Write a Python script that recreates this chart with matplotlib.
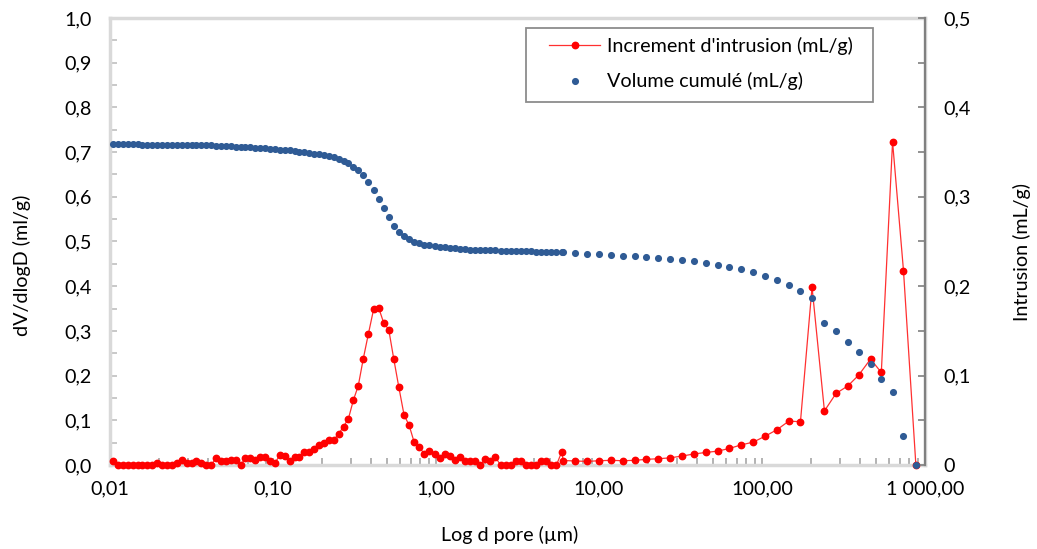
import numpy as np
import matplotlib.pyplot as plt
from matplotlib.ticker import LogLocator, NullFormatter, FixedLocator, MultipleLocator, FuncFormatter
from matplotlib.patches import Rectangle
from matplotlib.lines import Line2D

# log10 of the pore diameter (um) for each measured point
log_d = [
    -1.982, -1.952, -1.921, -1.891, -1.861, -1.831, -1.801, -1.771, -1.741, -1.711,
    -1.681, -1.651, -1.620, -1.590, -1.560, -1.530, -1.500, -1.470, -1.440, -1.410,
    -1.380, -1.350, -1.320, -1.290, -1.259, -1.229, -1.199, -1.169, -1.139, -1.109,
    -1.079, -1.049, -1.019, -0.989, -0.958, -0.928, -0.898, -0.868, -0.838, -0.808,
    -0.778, -0.748, -0.718, -0.688, -0.658, -0.627, -0.597, -0.567, -0.537, -0.507,
    -0.477, -0.446, -0.415, -0.383, -0.352, -0.321, -0.290, -0.259, -0.228, -0.196,
    -0.165, -0.134, -0.103, -0.072, -0.041, -0.009, 0.022, 0.053, 0.084, 0.115,
    0.146, 0.178, 0.209, 0.240, 0.271, 0.302, 0.333, 0.365, 0.396, 0.427,
    0.458, 0.489, 0.520, 0.552, 0.583, 0.614, 0.645, 0.676, 0.707, 0.739,
    0.770,
    # low pressure part, wider steps
    0.782, 0.855, 0.928, 1.001, 1.073, 1.146, 1.219, 1.291, 1.364, 1.436,
    1.509, 1.581, 1.654, 1.727, 1.800, 1.872, 1.945, 2.017, 2.092, 2.164,
    2.236, 2.307, 2.383, 2.454, 2.527, 2.593, 2.666, 2.732, 2.801, 2.868,
    2.944,
]

# dV/dlogD (ml/g) - left axis
increment = [
    0.009, 0, 0, 0, 0, 0, 0, 0, 0, 0.004,
    0, 0, 0, 0.004, 0.012, 0.004, 0.004, 0.008, 0.004, 0,
    0, 0.015, 0.008, 0.008, 0.011, 0.011, 0, 0.015, 0.015, 0.011,
    0.018, 0.018, 0.009, 0.004, 0.022, 0.021, 0.008, 0.018, 0.018, 0.030,
    0.029, 0.036, 0.045, 0.049, 0.056, 0.056, 0.070, 0.086, 0.104, 0.145,
    0.177, 0.238, 0.293, 0.348, 0.352, 0.318, 0.303, 0.237, 0.174, 0.112,
    0.089, 0.051, 0.040, 0.025, 0.032, 0.024, 0.016, 0.024, 0.021, 0.011,
    0.019, 0.010, 0.010, 0.010, 0, 0.013, 0.010, 0.017, 0, 0,
    0, 0.010, 0.008, 0, 0, 0, 0.009, 0.010, 0, 0,
    0.028,
    0.010, 0.009, 0.008, 0.0096, 0.0104, 0.0096, 0.0104, 0.0127, 0.014, 0.016,
    0.020, 0.0246, 0.028, 0.031, 0.037, 0.045, 0.051, 0.064, 0.079, 0.098,
    0.097, 0.398, 0.121, 0.160, 0.177, 0.201, 0.237, 0.207, 0.723, 0.435,
    0.0,
]

# cumulative intrusion (mL/g) - right axis
cumul = [
    0.3587, 0.3587, 0.3587, 0.3586, 0.3586, 0.3586, 0.3585, 0.3585, 0.3585, 0.3584,
    0.3584, 0.3583, 0.3583, 0.3582, 0.3581, 0.3580, 0.3579, 0.3578, 0.3577, 0.3575,
    0.3574, 0.3572, 0.3570, 0.3568, 0.3565, 0.3562, 0.3559, 0.3556, 0.3553, 0.3549,
    0.3545, 0.3541, 0.3537, 0.3533, 0.3528, 0.3523, 0.3518, 0.3512, 0.3506, 0.3499,
    0.3492, 0.3484, 0.3476, 0.3466, 0.3455, 0.3441, 0.3423, 0.3404, 0.3374, 0.3337,
    0.3300, 0.3244, 0.3162, 0.3076, 0.2975, 0.2871, 0.2774, 0.2677, 0.2610, 0.2556,
    0.2524, 0.2494, 0.2478, 0.2465, 0.2457, 0.2450, 0.2443, 0.2437, 0.2431, 0.2424,
    0.2415, 0.2412, 0.2410, 0.2409, 0.2408, 0.2407, 0.2405, 0.2402, 0.2399, 0.2397,
    0.2395, 0.2393, 0.2392, 0.2391, 0.2390, 0.2385, 0.2382, 0.2381, 0.2380, 0.2380,
    0.2379,
    0.2378, 0.2368, 0.2360, 0.2357, 0.2349, 0.2341, 0.2334, 0.2327, 0.2315, 0.2304,
    0.2293, 0.2278, 0.2260, 0.2241, 0.2218, 0.2189, 0.2155, 0.2118, 0.2073, 0.2017,
    0.1946, 0.1871, 0.1588, 0.1499, 0.1379, 0.1260, 0.1126, 0.0962, 0.0817, 0.0321,
    0.0,
]

x_ticks = [0.01, 0.1, 1, 10, 100, 1000]
x_labels = ['0,01', '0,10', '1,00', '10,00', '100,00', '1 000,00']

plt.rcParams['font.family'] = ['Lato', 'DejaVu Sans']
FS = 14.2
W, H = 1037, 549

d = 10 ** np.array(log_d)

fig = plt.figure(figsize=(W / 100, H / 100), dpi=100)
ax = fig.add_axes([110 / W, 1 - 465 / H, 815 / W, 447 / H])
ax2 = ax.twinx()

# red series on left axis
ax.plot(d, increment, color='#ff3030', lw=0.9, marker='o', ms=4.6,
        mfc='#ff0000', mec='#ff0000', clip_on=False, zorder=3)
# blue series on right axis
ax2.plot(d, cumul, ls='none', marker='o', ms=4.1, mfc='#2f5b95', mec='#2f5b95',
         clip_on=False, zorder=3)

ax.set_xscale('log')
ax.set_xlim(0.01, 1000)
ax.set_ylim(0, 1.0)
ax2.set_ylim(0, 0.5)

ax.xaxis.set_major_locator(FixedLocator(x_ticks))
ax.set_xticklabels(x_labels)
ax.xaxis.set_minor_locator(LogLocator(base=10, subs=np.arange(2, 10)))
ax.xaxis.set_minor_formatter(NullFormatter())

comma = lambda v, p: f"{v:.1f}".replace('.', ',')
ax.yaxis.set_major_locator(MultipleLocator(0.1))
ax.yaxis.set_minor_locator(MultipleLocator(0.05))
ax.yaxis.set_major_formatter(FuncFormatter(comma))
ax2.yaxis.set_major_locator(MultipleLocator(0.1))
ax2.yaxis.set_minor_locator(MultipleLocator(0.05))
ax2.yaxis.set_major_formatter(FuncFormatter(lambda v, p: '0' if abs(v) < 1e-9 else comma(v, p)))

ax.tick_params(axis='x', which='both', direction='in', length=5, width=1.2,
               color='#a6a6a6', pad=11, labelsize=FS, labelcolor='#000000')
ax.tick_params(axis='y', which='both', direction='in', length=5, width=1.2,
               color='#bfbfbf', pad=13, labelsize=FS, labelcolor='#000000')
ax2.tick_params(axis='y', which='both', direction='in', length=5, width=1.2,
                color='#7f7f7f', pad=13, labelsize=FS, labelcolor='#000000')

for s in ['left', 'bottom', 'top', 'right']:
    ax.spines[s].set_color('#d9d9d9')
    ax.spines[s].set_linewidth(2.5)
for s in ['left', 'bottom', 'top']:
    ax2.spines[s].set_visible(False)
ax2.spines['right'].set_color('#808080')
ax2.spines['right'].set_linewidth(1.6)

fig.text(509.5 / W, 1 - 535 / H, 'Log d pore (µm)', ha='center', va='center', fontsize=FS)
fig.text(22 / W, 1 - 265 / H, 'dV/dlogD (ml/g)', ha='center', va='center',
         rotation=90, fontsize=FS)
fig.text(1022 / W, 1 - 252 / H, 'Intrusion (mL/g)', ha='center', va='center',
         rotation=90, fontsize=FS)

# legend frame drawn by hand so padding matches
fig.patches.append(Rectangle((526 / W, 1 - 102 / H), 347 / W, 74 / H,
                             transform=fig.transFigure, fill=True, fc='white',
                             ec='#8c8c8c', lw=1.3, zorder=5))
handles = [
    Line2D([], [], color='#ff3030', lw=0.9, marker='o', ms=4.6, mfc='#ff0000', mec='#ff0000'),
    Line2D([], [], ls='none', marker='o', ms=4.1, mfc='#2f5b95', mec='#2f5b95'),
]
leg = fig.legend(handles, ["Increment d'intrusion (mL/g)", 'Volume cumulé (mL/g)'],
                 loc='upper left', bbox_to_anchor=(549 / W, 1 - 37 / H), frameon=False,
                 borderpad=0, borderaxespad=0, handlelength=2.59, handletextpad=0.36,
                 labelspacing=0.88, fontsize=FS)
leg.set_zorder(6)

fig.savefig('out.png', dpi=100)
